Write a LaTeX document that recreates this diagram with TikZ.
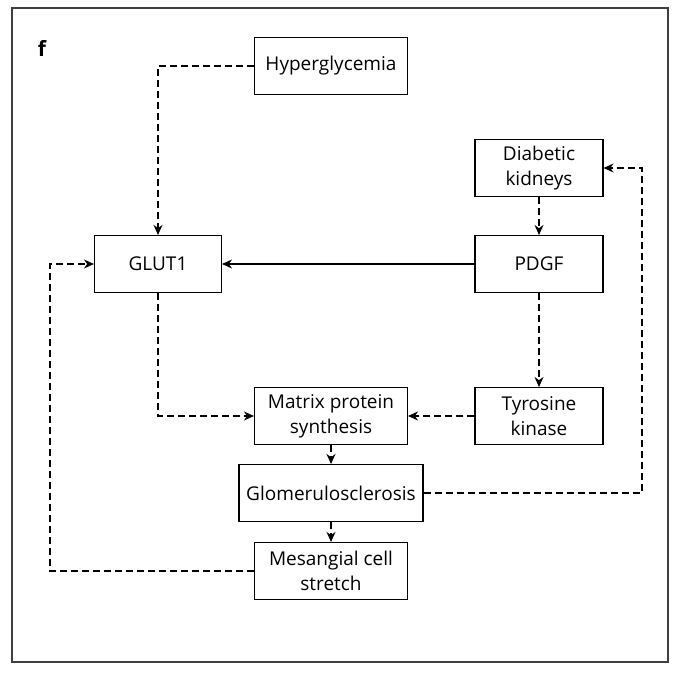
\documentclass[tikz,border=0pt]{standalone}
\usepackage{fontspec}
\setmainfont{Open Sans}
\usetikzlibrary{arrows.meta}
\begin{document}
\begin{tikzpicture}[x=1pt,y=-1pt,
  box/.style={draw, line width=1.1pt, minimum height=57pt, inner sep=0pt,
    align=center, font=\fontsize{19}{25}\selectfont},
  link/.style={line width=1.1pt, -{Stealth[length=10pt,width=9pt]}},
  dlink/.style={link, dash pattern=on 7pt off 4pt}]
  \useasboundingbox (0,0) rectangle (681,674);
  % outer frame
  \draw[line width=1.4pt, black!75] (12,8) rectangle (668,662);
  \node[font=\fontsize{21}{24}\selectfont\bfseries] (lab) at (42,48) {f};

  % boxes
  \node[box, minimum width=153pt] (hyp) at (331,66) {Hyperglycemia};
  \node[box, minimum width=128pt] (dk) at (539,168) {Diabetic\\kidneys};
  \node[box, minimum width=127pt] (glut) at (158,264) {GLUT1};
  \node[box, minimum width=128pt] (pdgf) at (539,264) {PDGF};
  \node[box, minimum width=153pt] (mps) at (331,416) {Matrix protein\\synthesis};
  \node[box, minimum width=128pt] (tk) at (539,416) {Tyrosine\\kinase};
  \node[box, minimum width=184pt] (gs) at (331,493) {Glomerulosclerosis};
  \node[box, minimum width=153pt] (mcs) at (331,571) {Mesangial cell\\stretch};

  % corner points of the feedback loops
  \coordinate (rloop) at (642,493);
  \coordinate (lloop) at (50,571);

  % connectors
  \draw[dlink] (hyp.west) -| (glut.north);
  \draw[dlink] (dk.south) -- (pdgf.north);
  \draw[link] (pdgf.west) -- (glut.east);
  \draw[dlink] (pdgf.south) -- (tk.north);
  \draw[dlink] (tk.west) -- (mps.east);
  \draw[dlink] (glut.south) |- (mps.west);
  \draw[dlink] (mps.south) -- (gs.north);
  \draw[dlink] (gs.south) -- (mcs.north);
  \draw[dlink] (gs.east) -- (rloop) |- (dk.east);
  \draw[dlink] (mcs.west) -- (lloop) |- (glut.west);
\end{tikzpicture}
\end{document}
